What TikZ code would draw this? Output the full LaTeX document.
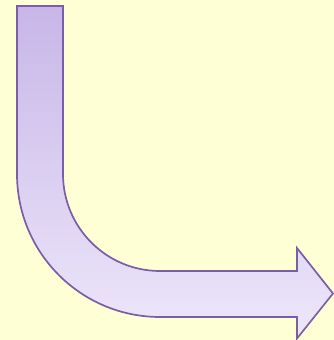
\documentclass[tikz,border=0pt]{standalone}
\usepackage{tikz}
\definecolor{paper}{RGB}{255,255,213}
\definecolor{arrowedge}{RGB}{122,94,166}
\definecolor{arrowtop}{RGB}{200,182,232}
\definecolor{arrowbot}{RGB}{237,231,250}
\def\BendIn{97}
\def\BendOut{143}

\begin{document}
\begin{tikzpicture}[x=1pt, y=1pt, line join=miter]
  \fill[paper] (0, 0) rectangle (334, 340);
  \useasboundingbox (0, 0) rectangle (334, 340);

  % bent arrow: down, round the corner, then right
  \draw[arrowedge, line width=1.7pt, top color=arrowtop, bottom color=arrowbot]
    (17, 334) -- (63, 334) -- (63, 166)
    arc (180:270:\BendIn) -- (297, 69)
    -- (297, 92) -- (333, 46.5) -- (297, 1.5) -- (297, 23)
    -- (160, 23) arc (270:180:\BendOut) -- cycle;
\end{tikzpicture}
\end{document}
